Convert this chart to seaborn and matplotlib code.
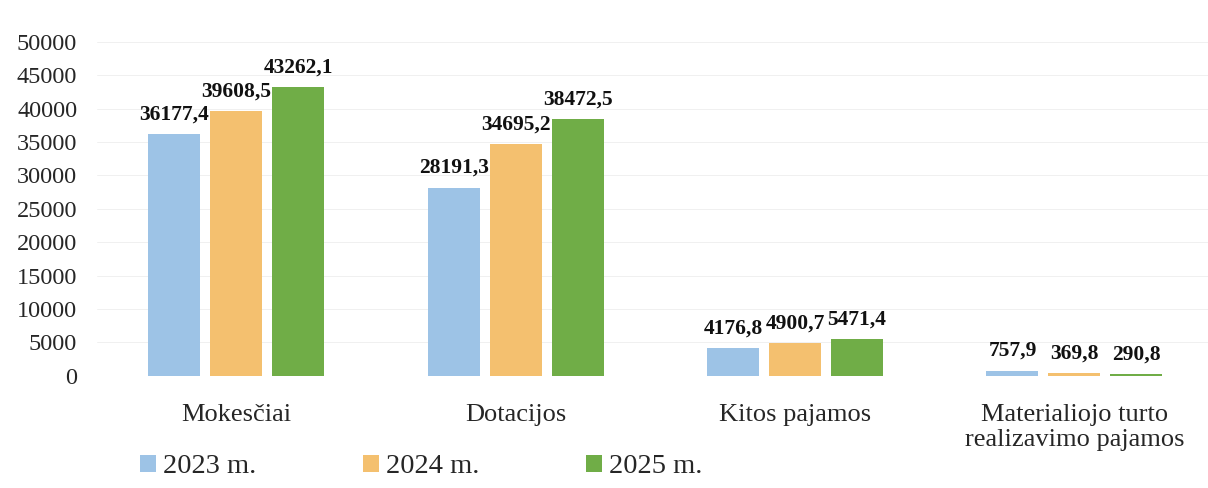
import pandas as pd
import seaborn as sns
import matplotlib.pyplot as plt

# Chart data
categories = ["Mokesčiai", "Dotacijos", "Kitos pajamos", "Materialiojo turto\nrealizavimo pajamos"]
years = ["2023 m.", "2024 m.", "2025 m."]
values_2023 = [36177.4, 28191.3, 4176.8, 757.9]
values_2024 = [39608.5, 34695.2, 4900.7, 369.8]
values_2025 = [43262.1, 38472.5, 5471.4, 290.8]
colors = ["#9dc3e6", "#f4c06f", "#70ad47"]

# Long-form table for seaborn
rows = []
for year, vals in zip(years, [values_2023, values_2024, values_2025]):
    for cat, v in zip(categories, vals):
        rows.append({"category": cat, "year": year, "value": v})
df = pd.DataFrame(rows)

sns.set_style("white")
plt.rcParams["font.family"] = ["Liberation Serif", "DejaVu Serif"]

fig = plt.figure(figsize=(12.08, 4.88), dpi=100)
ax = fig.add_axes([0.08, 0.23, 0.925, 0.684])

sns.barplot(data=df, x="category", y="value", hue="year", order=categories,
            hue_order=years, palette=colors, width=0.665, gap=0.16,
            saturation=1, errorbar=None, linewidth=0, ax=ax, zorder=3)

# Value labels with comma decimal separator
for container in ax.containers:
    labels = [f"{b.get_height():.1f}".replace(".", ",") for b in container]
    ax.bar_label(container, labels=labels, padding=7, fontsize=15.5,
                 fontweight="bold", color="#111111")

ax.set_ylim(0, 50000)
ax.set_yticks(range(0, 50001, 5000))
ax.yaxis.grid(True, color="#f0f0f0", linewidth=0.7, zorder=0)
ax.tick_params(axis="y", labelsize=17.5, length=0, pad=14)
ax.tick_params(axis="x", labelsize=19, length=0, pad=20)
ax.set_xlabel("")
ax.set_ylabel("")
for side in ["top", "right", "left", "bottom"]:
    ax.spines[side].set_visible(False)

handles, labels = ax.get_legend_handles_labels()
ax.get_legend().remove()
fig.legend(handles, labels, loc="lower left", bbox_to_anchor=(0.095, -0.035),
           ncol=3, frameon=False, fontsize=20.5, handlelength=0.55,
           handleheight=0.55, handletextpad=0.25, columnspacing=3.75)

fig.savefig("out.png", dpi=100)
plt.close(fig)
